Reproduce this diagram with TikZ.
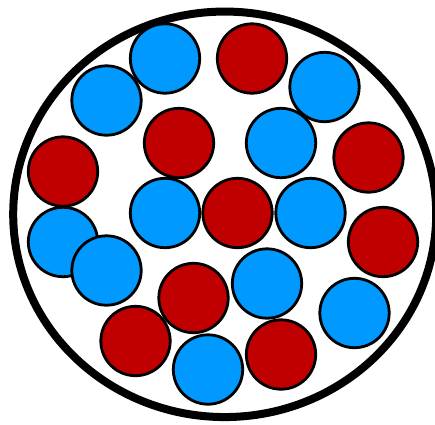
\documentclass[tikz,border=0pt]{standalone}
\usetikzlibrary{shapes.geometric}
\definecolor{ballblue}{RGB}{0,153,255}
\definecolor{ballred}{RGB}{192,0,0}
\tikzset{
  ball/.style={circle, draw=black, line width=2.8pt, minimum size=69.4pt, inner sep=0pt},
  blueball/.style={ball, fill=ballblue},
  redball/.style={ball, fill=ballred},
}
\begin{document}
\begin{tikzpicture}[x=1pt, y=-1pt]
\useasboundingbox (0,0) rectangle (435,424);
\begin{scope}
\clip (0,0) rectangle (435,424);
\node[draw=black, line width=8pt, ellipse, minimum width=423pt, minimum height=405.5pt, inner sep=0pt] (outer) at (224.7,214.3) {};
\end{scope}
\node[redball]  (r1) at (252,58.5) {};
\node[redball]  (r2) at (179,143) {};
\node[redball]  (r3) at (368.5,157.5) {};
\node[redball]  (r4) at (63,171.5) {};
\node[blueball] (b1) at (165,58.5) {};
\node[blueball] (b2) at (106.5,100.5) {};
\node[blueball] (b3) at (324.5,87) {};
\node[blueball] (b4) at (281,143) {};
\node[blueball] (b5) at (165,213) {};
\node[blueball] (b6) at (310.5,213) {};
\node[redball]  (r5) at (237.5,213) {};
\node[redball]  (r6) at (383,242) {};
\node[blueball] (b7) at (63,242) {};
\node[blueball] (b8) at (106.5,270.5) {};
\node[blueball] (b9) at (267,283.5) {};
\node[blueball] (b10) at (354.5,313) {};
\node[redball]  (r7) at (193.5,298) {};
\node[redball]  (r8) at (135.5,341) {};
\node[redball]  (r9) at (281,354.5) {};
\node[blueball] (b11) at (208,369.5) {};
\end{tikzpicture}
\end{document}
